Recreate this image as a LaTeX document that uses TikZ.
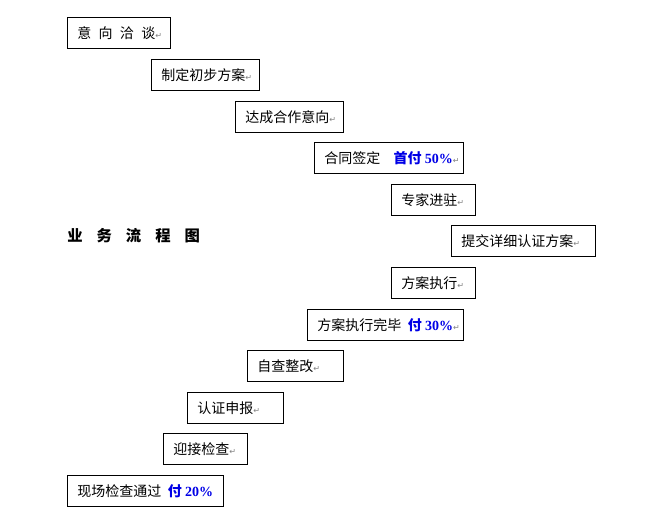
\documentclass[tikz,border=0pt]{standalone}
\usepackage{fontspec}
\usepackage{xcolor}
\usetikzlibrary{positioning}
\newfontfamily\cjk{Noto Sans CJK SC}
\newfontfamily\numfont{Liberation Serif}
\newfontfamily\markfont{DejaVu Sans}
\definecolor{payblue}{RGB}{0,0,230}
\newcommand{\retmark}{{\markfont\color{gray}\fontsize{6}{6}\selectfont ↵}}
\newcommand{\pay}[2]{\textcolor{payblue}{\bfseries #1 {\numfont #2}}}
\newcommand{\stepbox}[5]{%
  \node[stepframe, minimum width=#4*0.75pt] (#1) at (#2,#3) {};
  \node[steptext, right=7.5pt of #1.west] (#1txt) {#5}}

\begin{document}
\begin{tikzpicture}[x=0.75pt,y=-0.75pt,
    stepframe/.style={draw, line width=0.75pt, anchor=north west, minimum height=23.25pt, inner sep=0pt},
    steptext/.style={anchor=west, inner sep=0pt, font=\cjk\fontsize{10.5}{12}\selectfont}]
    \useasboundingbox (0,0) rectangle (646,528);

    \stepbox{talk}{67}{17}{103}{{\spaceskip=5.5pt\relax 意 向 洽 谈}\retmark};
    \stepbox{draft}{151}{59}{108}{制定初步方案\retmark};
    \stepbox{intent}{235}{101}{108}{达成合作意向\retmark};
    \stepbox{sign}{314}{142}{149}{合同签定\hspace{10pt}\pay{首付}{50\%}\retmark};
    \stepbox{onsite}{391}{184}{84}{专家进驻\retmark};
    \stepbox{plan}{451}{225}{144}{提交详细认证方案\retmark};
    \stepbox{run}{391}{267}{84}{方案执行\retmark};
    \stepbox{done}{307}{309}{156}{方案执行完毕\hspace{5pt}\pay{付}{30\%}\retmark};
    \stepbox{check}{247}{350}{96}{自查整改\retmark};
    \stepbox{apply}{187}{392}{96}{认证申报\retmark};
    \stepbox{audit}{163}{433}{84}{迎接检查\retmark};
    \stepbox{pass}{67}{475}{156}{现场检查通过\hspace{5pt}\pay{付}{20\%}};

    \node[anchor=west, inner sep=0pt, font=\cjk\bfseries\fontsize{11.5}{14}\selectfont] (title) at (67,236) {{\spaceskip=10.5pt\relax 业 务 流 程 图}};
\end{tikzpicture}
\end{document}
